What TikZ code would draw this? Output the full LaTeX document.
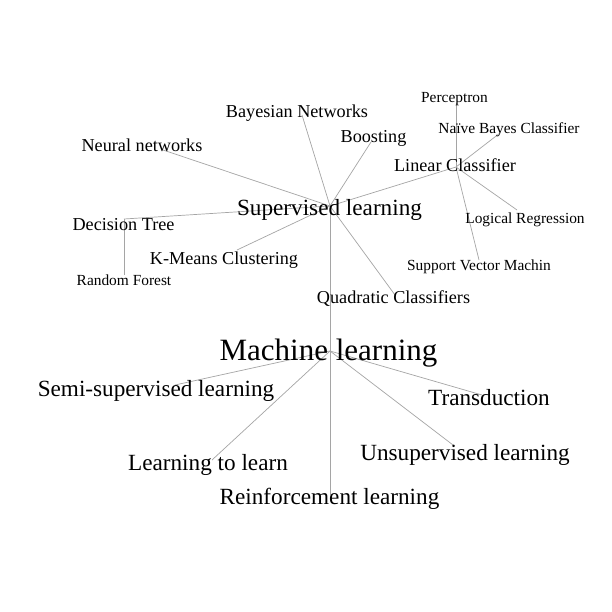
\documentclass[tikz,border=0pt]{standalone}
\usepackage{fontspec}
\setmainfont{Liberation Serif}
\usepackage{tikz}
\usetikzlibrary{positioning}
\definecolor{edge}{RGB}{165,165,165}

\begin{document}
\begin{tikzpicture}[x=1pt,y=-1pt,
  link/.style={draw=edge,line width=0.7pt},
  lbl/.style={anchor=base,inner sep=0pt,yshift=-1.5pt},
  root/.style={lbl,font=\fontsize{31}{31}\selectfont},
  topic/.style={lbl,font=\fontsize{23.2}{23.2}\selectfont},
  method/.style={lbl,font=\fontsize{18.2}{18.2}\selectfont},
  leaf/.style={lbl,font=\fontsize{15.4}{15.4}\selectfont}
]
\useasboundingbox[fill=white] (0,0) rectangle (612,612);

% graph points
\coordinate (ml) at (330,351);
\coordinate (sl) at (330,206);
\coordinate (semi) at (175,385);
\coordinate (trans) at (482,395);
\coordinate (l2l) at (212,460);
\coordinate (unsup) at (453,445);
\coordinate (reinf) at (330,495);
\coordinate (quad) at (395,295);
\coordinate (kmeans) at (237,250);
\coordinate (dtree) at (124,219);
\coordinate (rforest) at (124,275);
\coordinate (neural) at (163,150);
\coordinate (bayes) at (302,115);
\coordinate (boost) at (371,142);
\coordinate (linear) at (456,167);
\coordinate (percep) at (456,103);
\coordinate (naive) at (500,133);
\coordinate (logreg) at (517,210);
\coordinate (svm) at (479,260);

% links
\foreach \k in {sl,semi,trans,l2l,unsup,reinf}
  \draw[link] (ml) -- (\k);
\foreach \k in {quad,kmeans,dtree,neural,bayes,boost,linear}
  \draw[link] (sl) -- (\k);
\draw[link] (dtree) -- (rforest);
\foreach \k in {percep,naive,logreg,svm}
  \draw[link] (linear) -- (\k);

% labels
\node[root] (ml-t) at (328.5,359) {Machine learning};
\node[topic] (sl-t) at (329.5,214) {Supervised learning};
\node[topic] (semi-t) at (156,395) {Semi-supervised learning};
\node[topic] (trans-t) at (489,404) {Transduction};
\node[topic] (l2l-t) at (208,469) {Learning to learn};
\node[topic] (unsup-t) at (465,459) {Unsupervised learning};
\node[topic] (reinf-t) at (329.5,503) {Reinforcement learning};
\node[method] (quad-t) at (393.5,302) {Quadratic Classifiers};
\node[method] (kmeans-t) at (224,263) {K-Means Clustering};
\node[method] (dtree-t) at (123.5,228.5) {Decision Tree};
\node[method] (neural-t) at (142,150) {Neural networks};
\node[method] (bayes-t) at (297,116) {Bayesian Networks};
\node[method] (boost-t) at (373.5,141) {Boosting};
\node[method] (linear-t) at (455,170) {Linear Classifier};
\node[leaf] (rforest-t) at (124,283.5) {Random Forest};
\node[leaf] (percep-t) at (454.5,101) {Perceptron};
\node[leaf] (naive-t) at (509,132) {Naïve Bayes Classifier};
\node[leaf] (logreg-t) at (525,222) {Logical Regression};
\node[leaf] (svm-t) at (479,268.5) {Support Vector Machin};
\end{tikzpicture}
\end{document}
